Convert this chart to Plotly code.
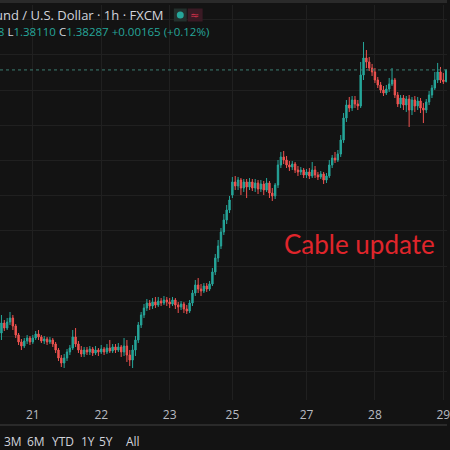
import pandas as pd
import plotly.graph_objects as go

# ---- data (GBP/USD, 1h candles, FXCM) ----
hours = pd.date_range("2026-01-20 12:00", "2026-01-29 01:00", freq="h")
hours = [t for t in hours if not (pd.Timestamp("2026-01-23 22:00") <= t < pd.Timestamp("2026-01-25 22:00"))]
bar_time = [t.strftime("%Y-%m-%d %H:%M") for t in hours]

open_ = [
    1.34665,1.34551,1.34693,1.34622,1.34708,1.34764,1.34651,1.34523,1.34424,1.34367,1.34438,1.34480,
    1.34424,1.34480,1.34537,1.34495,1.34438,1.34466,1.34424,1.34452,1.34395,1.34310,1.34196,1.34125,1.34196,1.34282,1.34338,1.34495,1.34395,1.34310,1.34253,1.34310,1.34282,1.34324,1.34267,1.34310,
    1.34282,1.34324,1.34282,1.34338,1.34296,1.34353,1.34310,1.34353,1.34282,1.34367,1.34239,1.34168,1.34310,1.34452,1.34665,1.34807,1.34906,1.34977,1.34935,1.34992,1.34949,1.35006,1.34977,1.35020,
    1.34992,1.34963,1.35020,1.34949,1.34921,1.34963,1.34892,1.34864,1.34977,1.35119,1.35233,1.35176,1.35148,1.35219,1.35176,1.35247,1.35418,1.35616,1.35787,1.35986,1.36156,1.36298,
    1.36511,1.36696,1.36639,1.36724,1.36610,1.36696,1.36625,1.36696,1.36610,1.36681,1.36596,1.36667,1.36582,1.36681,1.36539,1.36497,1.36653,1.36937,1.37051,1.37008,1.36937,1.36909,1.36951,1.36866,1.36838,1.36866,
    1.36795,1.36838,1.36781,1.36866,1.36795,1.36767,1.36809,1.36724,1.36781,1.36937,1.37036,1.37008,1.37093,1.37292,1.37604,1.37789,1.37746,1.37860,1.37803,1.37775,1.38215,1.38456,1.38400,1.38314,
    1.38258,1.38144,1.38073,1.38002,1.37959,1.38016,1.38087,1.38144,1.37931,1.37803,1.37888,1.37789,1.37874,1.37718,1.37860,1.37775,1.37846,1.37746,1.37718,1.37832,1.37931,1.38030,1.38144,1.38258,1.38144,1.38122,
]
high = [
    1.34736,1.34807,1.34736,1.34764,1.34850,1.34807,1.34679,1.34551,1.34466,1.34480,1.34523,1.34509,
    1.34523,1.34580,1.34594,1.34523,1.34509,1.34495,1.34495,1.34480,1.34424,1.34338,1.34239,1.34253,1.34324,1.34381,1.34594,1.34622,1.34438,1.34367,1.34353,1.34353,1.34367,1.34353,1.34367,1.34338,
    1.34381,1.34353,1.34395,1.34452,1.34395,1.34395,1.34409,1.34381,1.34480,1.34452,1.34310,1.34381,1.34509,1.34708,1.34850,1.34963,1.35034,1.35020,1.35048,1.35063,1.35063,1.35048,1.35077,1.35063,
    1.35048,1.35063,1.35048,1.34992,1.35006,1.34992,1.34949,1.35020,1.35162,1.35304,1.35332,1.35247,1.35261,1.35261,1.35290,1.35474,1.35673,1.35872,1.36042,1.36241,1.36369,1.36497,
    1.36767,1.36781,1.36767,1.36752,1.36738,1.36738,1.36752,1.36738,1.36738,1.36724,1.36724,1.36710,1.36752,1.36710,1.36610,1.36681,1.37008,1.37122,1.37136,1.37065,1.36994,1.36994,1.36980,1.36923,1.36909,1.36894,
    1.36880,1.36894,1.36980,1.36923,1.36838,1.36852,1.36838,1.36823,1.37008,1.37079,1.37122,1.37150,1.37363,1.37675,1.37860,1.37903,1.37917,1.37917,1.37860,1.38400,1.38684,1.38570,1.38471,1.38372,
    1.38314,1.38187,1.38116,1.38059,1.38073,1.38173,1.38314,1.38173,1.37974,1.37931,1.37931,1.37917,1.37931,1.37903,1.37917,1.37903,1.37888,1.37817,1.37874,1.37988,1.38073,1.38258,1.38386,1.38329,1.38243,1.38288,
]
low = [
    1.34509,1.34452,1.34580,1.34594,1.34665,1.34594,1.34480,1.34381,1.34310,1.34338,1.34395,1.34381,
    1.34395,1.34452,1.34452,1.34409,1.34395,1.34381,1.34395,1.34353,1.34267,1.34154,1.34069,1.34054,1.34154,1.34239,1.34310,1.34353,1.34267,1.34211,1.34211,1.34239,1.34239,1.34225,1.34239,1.34225,
    1.34253,1.34239,1.34253,1.34267,1.34267,1.34267,1.34282,1.34211,1.34225,1.34140,1.34083,1.34054,1.34225,1.34409,1.34622,1.34764,1.34864,1.34878,1.34892,1.34906,1.34921,1.34935,1.34949,1.34935,
    1.34906,1.34935,1.34892,1.34835,1.34878,1.34835,1.34821,1.34835,1.34935,1.35077,1.35119,1.35077,1.35119,1.35134,1.35148,1.35219,1.35375,1.35560,1.35744,1.35943,1.36099,1.36255,
    1.36468,1.36582,1.36582,1.36511,1.36554,1.36468,1.36582,1.36568,1.36554,1.36525,1.36554,1.36511,1.36554,1.36468,1.36426,1.36454,1.36610,1.36894,1.36951,1.36894,1.36852,1.36866,1.36823,1.36781,1.36795,1.36752,
    1.36752,1.36738,1.36752,1.36752,1.36724,1.36738,1.36667,1.36681,1.36752,1.36894,1.36965,1.36980,1.37051,1.37251,1.37548,1.37690,1.37704,1.37746,1.37718,1.37746,1.38144,1.38314,1.38272,1.38201,
    1.38101,1.38030,1.37959,1.37917,1.37931,1.37974,1.38059,1.37888,1.37761,1.37746,1.37718,1.37690,1.37477,1.37647,1.37690,1.37718,1.37675,1.37533,1.37675,1.37789,1.37888,1.38002,1.38101,1.38101,1.38087,1.38110,
]
close = [
    1.34537,1.34693,1.34622,1.34708,1.34764,1.34651,1.34523,1.34424,1.34367,1.34438,1.34480,1.34424,
    1.34480,1.34537,1.34495,1.34438,1.34466,1.34424,1.34452,1.34395,1.34310,1.34196,1.34125,1.34196,1.34282,1.34338,1.34495,1.34395,1.34310,1.34253,1.34310,1.34282,1.34324,1.34267,1.34310,1.34282,
    1.34324,1.34282,1.34338,1.34296,1.34353,1.34310,1.34353,1.34282,1.34367,1.34239,1.34168,1.34310,1.34452,1.34665,1.34807,1.34906,1.34977,1.34935,1.34992,1.34949,1.35006,1.34977,1.35020,1.34992,
    1.34963,1.35020,1.34949,1.34921,1.34963,1.34892,1.34864,1.34977,1.35119,1.35233,1.35176,1.35148,1.35219,1.35176,1.35247,1.35418,1.35616,1.35787,1.35986,1.36156,1.36298,1.36440,
    1.36696,1.36639,1.36724,1.36610,1.36696,1.36625,1.36696,1.36610,1.36681,1.36596,1.36667,1.36582,1.36681,1.36539,1.36497,1.36653,1.36937,1.37051,1.37008,1.36937,1.36909,1.36951,1.36866,1.36838,1.36866,1.36795,
    1.36838,1.36781,1.36866,1.36795,1.36767,1.36809,1.36724,1.36781,1.36937,1.37036,1.37008,1.37093,1.37292,1.37604,1.37789,1.37746,1.37860,1.37803,1.37775,1.38215,1.38456,1.38400,1.38314,1.38258,
    1.38144,1.38073,1.38002,1.37959,1.38016,1.38087,1.38144,1.37931,1.37803,1.37888,1.37789,1.37874,1.37718,1.37860,1.37775,1.37846,1.37746,1.37718,1.37832,1.37931,1.38030,1.38144,1.38258,1.38144,1.38122,1.38287,
]

tick_times = ["2026-01-21 00:00", "2026-01-22 00:00", "2026-01-23 00:00", "2026-01-25 22:00",
              "2026-01-27 00:00", "2026-01-28 00:00", "2026-01-29 00:00"]
tick_labels = ["21", "22", "23", "25", "27", "28", "29"]
range_buttons = ["3M", "6M", "YTD", "1Y", "5Y", "All"]

# ---- styling ----
BG = "#131313"
GRID = "#202020"
UP = "#26a69a"
DOWN = "#ef5350"
TXT = "#d1d4dc"
W, H = 450, 450
T, B = 5, 50
PH = H - T - B

def px(x):
    return x / W

def py(y):
    return (H - B - y) / PH

fig = go.Figure()
fig.add_trace(go.Candlestick(
    x=bar_time, open=open_, high=high, low=low, close=close,
    increasing=dict(line=dict(color=UP, width=1), fillcolor=UP),
    decreasing=dict(line=dict(color=DOWN, width=1), fillcolor=DOWN),
    whiskerwidth=0, showlegend=False,
))

last = close[-1]
chg = close[-1] - close[-2]
pct = chg / close[-2] * 100
G = UP
header2 = (f"<span style='color:{TXT}'>O</span><span style='color:{G}'>{open_[-1]:.5f}</span> "
           f"<span style='color:{TXT}'>H</span><span style='color:{G}'>{high[-1]:.5f}</span> "
           f"<span style='color:{TXT}'>L</span><span style='color:{G}'>{low[-1]:.5f}</span> "
           f"<span style='color:{TXT}'>C</span><span style='color:{G}'>{close[-1]:.5f}</span> "
           f"<span style='color:{G}'>{chg:+.5f} ({pct:+.2f}%)</span>")

annotations = [
    dict(text="British Pound / U.S. Dollar · 1h · FXCM", x=px(167), y=py(15), xanchor="right",
         yanchor="middle", font=dict(family="Open Sans", size=13, color=TXT)),
    dict(text=header2, x=px(212), y=py(31), xanchor="right", yanchor="middle",
         font=dict(family="Open Sans", size=11.5, color=TXT)),
    dict(text="≈", x=px(196), y=py(15), xanchor="center", yanchor="middle",
         font=dict(family="DejaVu Sans", size=11, color="#d0304a")),
    dict(text="Cable update", x=px(362), y=py(244), xanchor="center", yanchor="middle",
         font=dict(family="Lato", size=26, color="#e0252b")),
]
btn_x = [13, 36, 63, 89, 107, 134]
for lbl, bx in zip(range_buttons, btn_x):
    annotations.append(dict(text=lbl, x=px(bx), y=py(441), xanchor="center", yanchor="middle",
                            font=dict(family="Open Sans", size=12, color=TXT)))
for a in annotations:
    a.update(xref="paper", yref="paper", showarrow=False)

shapes = [
    dict(type="rect", xref="paper", yref="paper", x0=0, x1=1, y0=py(3), y1=py(0),
         fillcolor="#2a2a2a", line=dict(width=0), layer="above"),
    dict(type="line", xref="paper", yref="paper", x0=0, x1=1, y0=py(425), y1=py(425),
         line=dict(color="#2a2a2a", width=2)),
    dict(type="rect", xref="paper", yref="paper", x0=px(175), x1=px(188), y0=py(21.5), y1=py(8.5),
         fillcolor="#23302d", line=dict(width=0)),
    dict(type="circle", xref="paper", yref="paper", x0=px(178), x1=px(185), y0=py(18.5), y1=py(11.5),
         fillcolor="#26a69a", line=dict(width=0)),
    dict(type="rect", xref="paper", yref="paper", x0=px(189), x1=px(204), y0=py(21.5), y1=py(8.5),
         fillcolor="#3a1a24", line=dict(width=0)),
    dict(type="line", xref="paper", yref="y", x0=0, x1=1, y0=last, y1=last,
         line=dict(color="#3b7d72", width=1, dash="dot")),
]

fig.update_layout(
    width=W, height=H,
    margin=dict(l=0, r=0, t=T, b=B),
    paper_bgcolor=BG, plot_bgcolor=BG,
    annotations=annotations, shapes=shapes,
    xaxis=dict(type="category", range=[0.49, 157.28], rangeslider=dict(visible=False),
               tickmode="array", tickvals=tick_times, ticktext=tick_labels,
               showgrid=True, gridcolor=GRID, gridwidth=1, zeroline=False, showline=False,
               ticks="", ticklabelstandoff=6,
               tickfont=dict(family="Open Sans", size=12, color="#b8bbc2")),
    yaxis=dict(range=[1.33600, 1.39209], dtick=0.005, tick0=0, showgrid=True, gridcolor=GRID,
               gridwidth=1, zeroline=False, showticklabels=False, showline=False, ticks=""),
    hovermode=False,
)

fig.write_html("out.html", config={"displayModeBar": False},
               post_script="document.body.style.margin='0';document.body.style.background='#131313';")
